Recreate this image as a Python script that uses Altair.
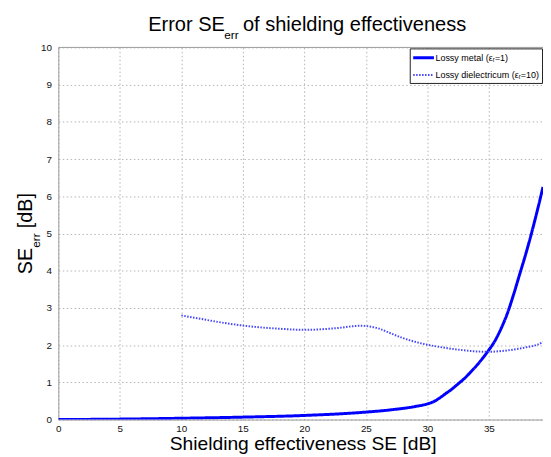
import altair as alt
import pandas as pd

# ---------------- data ----------------
series_names = ["Lossy metal (εᵣ=1)", "Lossy dielectricum (εᵣ=10)"]

metal_x = [0, 5, 10, 15, 20, 25, 27, 29, 30, 30.5, 31, 31.5, 32, 32.5, 33, 33.5,
           34, 34.5, 35, 35.5, 36, 36.5, 37, 37.5, 38, 38.5, 39, 39.4]
metal_y = [0.0, 0.012, 0.035, 0.065, 0.11, 0.2, 0.26, 0.35, 0.42, 0.48, 0.58, 0.7,
           0.82, 0.96, 1.1, 1.27, 1.45, 1.65, 1.87, 2.12, 2.45, 2.85, 3.35, 3.9,
           4.45, 5.05, 5.7, 6.25]

diel_x = [10, 12, 14, 16, 18, 20, 22, 23, 24, 24.6, 25.3, 26, 27, 28, 29, 30, 31,
          32, 33, 34, 35, 36, 37, 38, 39, 39.4]
diel_y = [2.8, 2.68, 2.57, 2.49, 2.44, 2.41, 2.44, 2.47, 2.51, 2.52, 2.5, 2.45,
          2.32, 2.19, 2.09, 2.01, 1.95, 1.9, 1.86, 1.83, 1.82, 1.84, 1.88, 1.94,
          2.02, 2.08]

x_ticks = [0, 5, 10, 15, 20, 25, 30, 35]
y_ticks = [0, 1, 2, 3, 4, 5, 6, 7, 8, 9, 10]

df = pd.concat([
    pd.DataFrame({"x": metal_x, "y": metal_y, "s": series_names[0]}),
    pd.DataFrame({"x": diel_x, "y": diel_y, "s": series_names[1]}),
])

FONT = "Liberation Sans"
FRAME = "#9a9a9a"
GRID = "#b4b4b4"

W, H = 491, 377

xscale = alt.Scale(domain=[0, 39.4], nice=False, zero=False)
yscale = alt.Scale(domain=[0, 10], nice=False)

lines = alt.Chart(df).mark_line(interpolate="monotone", clip=True).encode(
    x=alt.X("x:Q", scale=xscale,
            axis=alt.Axis(values=x_ticks, tickCount=len(x_ticks),
                          title="Shielding effectiveness SE [dB]",
                          titleFont=FONT, titleFontSize=19.5, titleFontWeight="normal",
                          titleColor="#000", titleBaseline="alphabetic",
                          titleY=30, titleX=W / 2 + 2, titleAnchor="middle",
                          labelFont=FONT, labelFontSize=10, labelColor="#111",
                          labelPadding=4, labelFlush=False, labelBaseline="top",
                          labelOverlap=False,
                          ticks=False, domainColor=FRAME, domainWidth=1,
                          grid=True, gridColor=GRID, gridDash=[1.5, 2.5],
                          gridWidth=1)),
    y=alt.Y("y:Q", scale=yscale,
            axis=alt.Axis(values=y_ticks, tickCount=len(y_ticks), title=None,
                          labelFont=FONT, labelFontSize=10, labelColor="#111",
                          labelPadding=7, labelFlush=False, labelOverlap=False,
                          ticks=False, domainColor=FRAME, domainWidth=1,
                          grid=True, gridColor=GRID, gridDash=[1.5, 2.5],
                          gridWidth=1)),
    color=alt.Color("s:N", scale=alt.Scale(domain=series_names,
                                           range=["#0000ff", "#4646ff"]),
                    legend=alt.Legend(title=None)),
    strokeDash=alt.StrokeDash("s:N", scale=alt.Scale(domain=series_names,
                                                     range=[[1, 0], [1.5, 1.5]]),
                              legend=alt.Legend(title=None)),
    strokeWidth=alt.StrokeWidth("s:N", scale=alt.Scale(domain=series_names,
                                                       range=[3, 2]),
                                legend=alt.Legend(title=None)),
)

one = alt.Data(values=[{"k": 0}])

top_frame = alt.Chart(one).mark_rule(color=FRAME, strokeWidth=1).encode(
    y=alt.datum(10, scale=yscale)
)

def txt(s, x, y, size, angle=0):
    return alt.Chart(one).mark_text(
        text=s, font=FONT, fontSize=size, align="left", baseline="alphabetic",
        color="#000", angle=angle
    ).encode(x=alt.value(x), y=alt.value(y))

# title with subscript
title_parts = [
    txt("Error SE", 91, -17, 20.3),
    txt("err", 168, -9, 12),
    txt("of shielding effectiveness", 187, -17, 20.3),
]

# y title with subscript (rotated)
yc = H / 2
y_parts = [
    txt("SE", -27, yc + 41.2, 20, 270),
    txt("err", -19, yc + 14.5, 12, 270),
    txt("[dB]", -27, yc - 5.4, 20, 270),
]

chart = alt.layer(top_frame, lines, *title_parts, *y_parts).properties(
    width=W, height=H,
    autosize=alt.AutoSizeParams(type="none"),
    padding={"left": 51, "top": 37, "right": 0, "bottom": 34},
).configure_view(stroke=None).configure_legend(
    orient="none", legendX=356, legendY=1,
    padding=2, fillColor="#ffffff", strokeColor="#222222", strokeWidth=1,
    cornerRadius=0, symbolType="M-1,0H2.5", symbolSize=144,
    labelFont=FONT, labelFontSize=9.1, labelColor="#000", labelOffset=9,
    rowPadding=4, labelLimit=300,
)

chart.save("out.html", embed_options={"renderer": "svg", "actions": False})
